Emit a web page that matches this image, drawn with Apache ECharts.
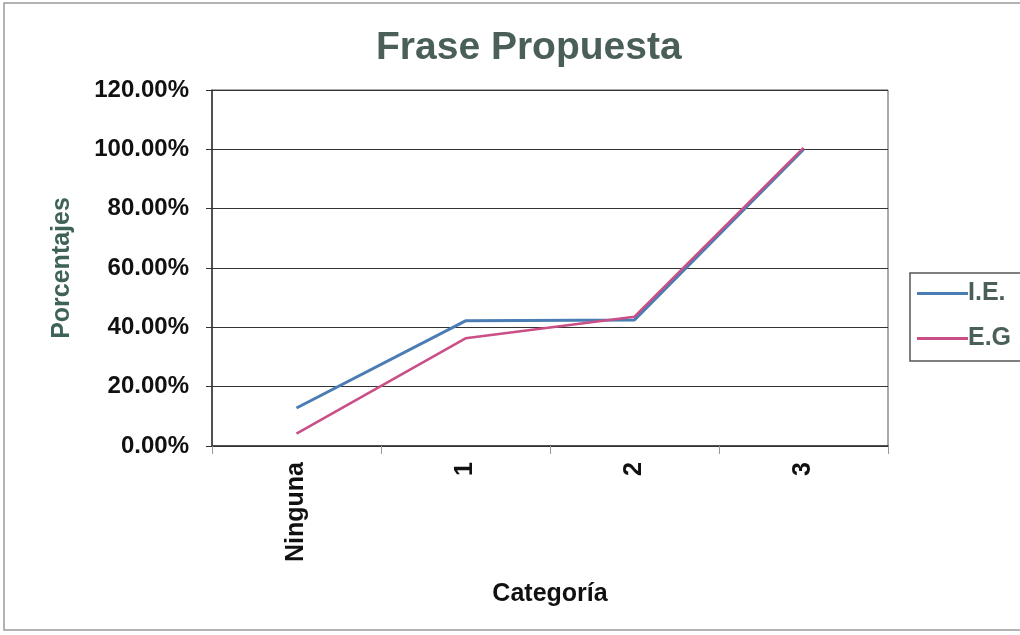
<!DOCTYPE html>
<html>
<head>
<meta charset="utf-8">
<script src="https://cdn.jsdelivr.net/npm/echarts@6/dist/echarts.min.js"></script>
<style>
  html, body { margin: 0; padding: 0; background: #fff; }
  #chart { width: 1020px; height: 635px; }
</style>
</head>
<body>
<div id="chart"></div>
<script>
// categories and values
var categorias = ['Ninguna', '1', '2', '3'];
var serieIE = [12.8, 42.2, 42.5, 100];
var serieEG = [4.2, 36.3, 43.6, 100.5];
var yTicks = [0, 20, 40, 60, 80, 100, 120];

var font = '"Liberation Sans", Arial, sans-serif';

var option = {
    backgroundColor: '#fff',
    animation: false,
    title: {
        text: 'Frase Propuesta',
        left: 371,
        top: 24,
        textStyle: {
            color: '#4b5f59',
            fontFamily: font,
            fontWeight: 'bold',
            fontSize: 39
        }
    },
    graphic: [{
        type: 'rect',
        shape: { x: 4, y: 3, width: 1030, height: 627 },
        style: { fill: 'none', stroke: '#9a9a9a', lineWidth: 1.5 },
        silent: true
    }],
    legend: {
        orient: 'vertical',
        left: 910,
        top: 273,
        padding: [8, 30, 10, 7],
        itemGap: 20,
        itemWidth: 51,
        itemHeight: 3,
        icon: 'rect',
        borderColor: '#555',
        borderWidth: 1.5,
        textStyle: {
            color: '#4b5f59',
            fontFamily: font,
            fontWeight: 'bold',
            fontSize: 25,
            padding: [0, 0, 0, -5]
        },
        data: ['I.E.', 'E.G']
    },
    grid: {
        left: 212,
        right: 132,
        top: 90,
        bottom: 189,
        show: true,
        borderColor: '#555',
        borderWidth: 1
    },
    xAxis: {
        type: 'category',
        data: categorias,
        boundaryGap: true,
        name: 'Categoría',
        nameLocation: 'middle',
        nameGap: 136,
        nameTextStyle: {
            color: '#111',
            fontFamily: font,
            fontWeight: 'bold',
            fontSize: 25
        },
        axisLine: { lineStyle: { color: '#333', width: 1.5 } },
        axisTick: { show: true, length: 8, lineStyle: { color: '#999' } },
        axisLabel: {
            rotate: 90,
            margin: 16,
            color: '#111',
            fontFamily: font,
            fontWeight: 'bold',
            fontSize: 25
        }
    },
    yAxis: {
        type: 'value',
        min: 0,
        max: 120,
        interval: 20,
        name: 'Porcentajes',
        nameLocation: 'middle',
        nameGap: 137,
        nameTextStyle: {
            color: '#3f6258',
            fontFamily: font,
            fontWeight: 'bold',
            fontSize: 25
        },
        axisLine: { show: true, lineStyle: { color: '#333', width: 1.5 } },
        axisTick: { show: true, length: 6, lineStyle: { color: '#333' } },
        splitLine: { lineStyle: { color: '#333', width: 1 } },
        axisLabel: {
            margin: 23,
            color: '#111',
            fontFamily: font,
            fontWeight: 'bold',
            fontSize: 24,
            formatter: function (v) {
                return yTicks.indexOf(v) >= 0 ? v.toFixed(2) + '%' : '';
            }
        }
    },
    series: [
        {
            name: 'I.E.',
            type: 'line',
            data: serieIE,
            showSymbol: false,
            color: '#4a7db3',
            lineStyle: { width: 3 }
        },
        {
            name: 'E.G',
            type: 'line',
            data: serieEG,
            showSymbol: false,
            color: '#c94f86',
            lineStyle: { width: 2.5 }
        }
    ]
};

echarts.init(document.getElementById('chart')).setOption(option);
</script>
</body>
</html>
